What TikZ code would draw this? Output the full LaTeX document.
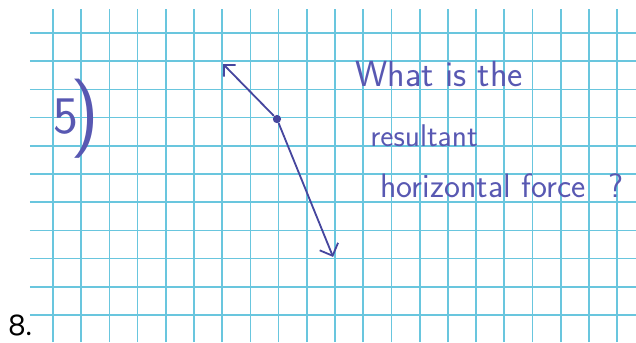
\documentclass[tikz,border=0pt]{standalone}
\usepackage{fontspec}
\usetikzlibrary{arrows.meta}
\newfontfamily\numfont{Poppins}
\definecolor{gridcyan}{RGB}{105,198,222}
\definecolor{pen}{RGB}{70,70,158}
\definecolor{ink}{RGB}{88,88,178}
\tikzset{hand/.style={ink,anchor=base west,inner sep=0pt,font=\sffamily\fontsize{#1}{#1}\selectfont}}

\begin{document}
\begin{tikzpicture}[x=0.6cm,y=0.6cm]
\useasboundingbox(-1.88,-10.96)rectangle(20.67,1.17);
\draw[gridcyan,line width=1pt,step=0.6cm](-0.82,-10.96)grid(20.67,0.85);
\node[hand=32](num)at(0,-3.55){5\kern-4.5pt\raisebox{-3pt}{\fontsize{48}{48}\selectfont)}};
\node[circle,fill=pen,inner sep=0pt,minimum size=5pt](p)at(7.94,-3.05){};
\coordinate(a)at(6.03,-1.10);\coordinate(b)at(9.93,-7.94);
\draw[-{Straight Barb[length=5pt]},pen,line width=1.1pt](p)--(a);\draw[-{Straight Barb[length=6pt]},pen,line width=1.1pt](p)--(b);
\node[hand=22](q1)at(10.71,-1.91){What is the};
\node[hand=19](q2)at(11.24,-4.01){resultant};
\node[hand=20.5](q3)at(11.60,-5.85){horizontal force\hspace{14pt}?};
\node[anchor=base west,inner sep=0pt,font=\numfont\fontsize{17}{17}\selectfont](lbl)at(-1.60,-10.72){8.};
\end{tikzpicture}
\end{document}
